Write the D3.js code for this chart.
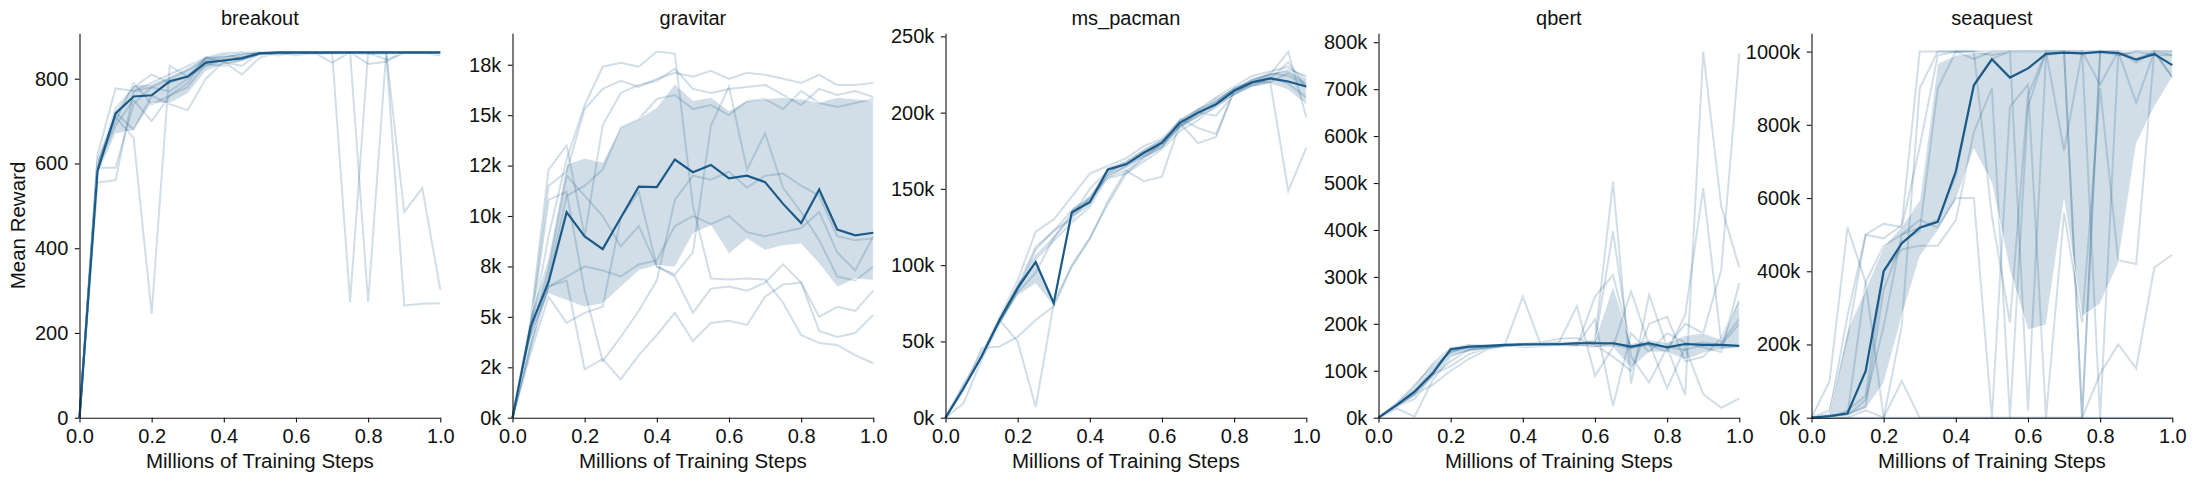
<!DOCTYPE html>
<html>
<head>
<meta charset="utf-8">
<script src="https://cdn.jsdelivr.net/npm/d3@7"></script>
<style>
  body { margin: 0; background: #fff; }
  svg { display: block; font-family: "Liberation Sans", Arial, sans-serif; }
  .tick text { font-size: 20px; fill: #111; }
  .tick line, .domain { stroke: #111; stroke-width: 1.1px; }
</style>
</head>
<body>
<svg id="chart"></svg>
<script>
// x positions (millions of steps)
const steps = [0, 0.05, 0.1, 0.15, 0.2, 0.25, 0.3, 0.35, 0.4, 0.45, 0.5,
               0.55, 0.6, 0.65, 0.7, 0.75, 0.8, 0.85, 0.9, 0.95, 1.0];
const games = ['breakout', 'gravitar', 'ms_pacman', 'qbert', 'seaquest'];
const xTicks = [0, 0.2, 0.4, 0.6, 0.8, 1.0];

// breakout
const breakoutMean = [0, 583, 718, 758, 761, 794, 805, 838, 843, 848, 860, 862, 862, 862, 862, 862, 862, 862, 862, 862, 862];
const breakoutLow  = [0, 572, 670, 678, 742, 742, 765, 818, 832, 840, 854, 856, 856, 857, 856, 857, 855, 856, 857, 857, 857];
const breakoutHigh = [0, 608, 726, 785, 788, 806, 826, 853, 854, 860, 864, 864, 864, 864, 864, 864, 864, 864, 864, 864, 864];
const breakoutRuns = [
  [0, 600, 700, 790, 740, 760, 790, 850, 855, 850, 862, 862, 862, 862, 862, 273, 862, 862, 862, 862, 862],
  [0, 555, 561, 770, 780, 770, 800, 840, 850, 860, 862, 860, 862, 862, 862, 862, 273, 862, 862, 862, 862],
  [0, 590, 590, 740, 780, 800, 820, 845, 855, 858, 862, 855, 862, 858, 862, 862, 862, 862, 485, 542, 302],
  [0, 610, 710, 660, 245, 830, 805, 850, 840, 830, 862, 862, 862, 862, 862, 862, 862, 862, 265, 269, 270],
  [0, 620, 777, 771, 790, 810, 830, 850, 860, 862, 862, 862, 855, 862, 838, 862, 862, 862, 862, 862, 862],
  [0, 580, 720, 680, 760, 740, 726, 800, 840, 810, 850, 862, 862, 860, 862, 862, 835, 840, 862, 862, 855],
  [0, 600, 730, 780, 810, 790, 805, 830, 845, 850, 858, 860, 862, 862, 862, 862, 862, 845, 862, 862, 862],
  [0, 590, 690, 750, 700, 760, 780, 835, 830, 845, 860, 862, 862, 862, 862, 862, 862, 862, 862, 862, 862]
];
const breakoutTicks = [0, 200, 400, 600, 800];
const breakoutTickLabels = ['0', '200', '400', '600', '800'];

// gravitar
const gravitarMean = [0, 4500, 6730, 10190, 8990, 8360, 9910, 11460, 11430, 12800, 12170, 12530, 11870, 12000, 11680, 10600, 9650, 11310, 9330, 9040, 9170];
const gravitarLow  = [0, 3900, 6150, 5820, 5490, 5660, 6480, 7300, 7550, 7470, 9120, 9530, 8130, 8870, 8300, 8540, 8620, 7640, 6480, 6890, 6810];
const gravitarHigh = [0, 5100, 7970, 12580, 12860, 12660, 14400, 14810, 15380, 16540, 15720, 15880, 15220, 15720, 15800, 15880, 15800, 15630, 15880, 15800, 15720];
const gravitarRuns = [
  [0, 4200, 9000, 12800, 15500, 17400, 17600, 17400, 18150, 18050, 10500, 6900, 6850, 6900, 6850, 5700, 4100, 3700, 3600, 3100, 2700],
  [0, 4500, 11500, 12200, 15300, 16300, 16700, 16400, 16800, 17100, 16900, 17200, 16800, 17100, 17000, 16800, 16600, 17000, 16500, 16500, 16600],
  [0, 4800, 12300, 13500, 9000, 14500, 16100, 16500, 16700, 17300, 16300, 16100, 16300, 16400, 16500, 16000, 15500, 16300, 16000, 16200, 15900],
  [0, 3500, 7000, 11000, 11500, 12300, 14400, 14800, 15800, 16000, 15300, 15500, 15000, 15700, 15800, 15300, 16200, 15600, 15400, 15600, 15800],
  [0, 4000, 7400, 12000, 11000, 10000, 8500, 9500, 7500, 7100, 8200, 14500, 16400, 12300, 14100, 11400, 10200, 8800, 7000, 6800, 7500],
  [0, 4300, 10800, 11200, 6300, 2800, 4000, 5300, 6800, 10800, 12000, 11800, 12200, 11400, 12000, 12100, 11500, 11000, 9000, 8800, 8900],
  [0, 3800, 6500, 7000, 7500, 7300, 7000, 7600, 7800, 9500, 10000, 9600, 10000, 9200, 9000, 9200, 9400, 10200, 8200, 7300, 9000],
  [0, 3200, 6000, 4700, 5200, 5500, 9900, 11200, 7500, 7000, 5200, 6400, 6500, 6300, 6700, 7600, 6700, 4300, 4000, 4200, 5100],
  [0, 3500, 6500, 6800, 2400, 2900, 1900, 3100, 4100, 5200, 3800, 4700, 4800, 4600, 6000, 6600, 6700, 5000, 5500, 5300, 6300]
];
const gravitarTicks = [0, 2500, 5000, 7500, 10000, 12500, 15000, 17500];
const gravitarTickLabels = ['0k', '2k', '5k', '8k', '10k', '12k', '15k', '18k'];

// ms_pacman
const pacmanMean = [0, 19300, 40100, 64200, 85000, 102100, 75100, 134700, 141300, 162800, 166100, 173700, 180300, 193500, 200000, 205500, 214300, 219800, 222400, 220400, 217100];
const pacmanLow  = [0, 18000, 38500, 61000, 80000, 88000, 73000, 131000, 138000, 158000, 163000, 170000, 176000, 190000, 196500, 202500, 211000, 216500, 219000, 215000, 205000];
const pacmanHigh = [0, 21000, 42000, 66500, 88500, 103500, 77000, 137500, 145500, 164500, 168500, 176500, 183000, 196000, 203000, 208500, 217000, 222500, 226000, 228000, 222000];
const pacmanRuns = [
  [0, 20000, 40000, 64000, 50000, 7000, 75000, 100000, 118000, 140000, 160000, 168000, 176000, 188000, 195000, 205000, 212000, 220000, 225000, 240000, 197000],
  [0, 18000, 45600, 46700, 53000, 64000, 73000, 99000, 117000, 142000, 162000, 170000, 180000, 192000, 200000, 208000, 214000, 222000, 225000, 228000, 224000],
  [0, 22000, 42000, 66000, 90000, 122000, 130000, 145000, 160000, 165000, 170000, 178000, 183000, 195000, 202000, 210000, 217000, 224000, 227000, 230000, 222000],
  [0, 9400, 38000, 62000, 84000, 110000, 123000, 130000, 145000, 158000, 162000, 155000, 158000, 193000, 180000, 184000, 215000, 220000, 220000, 148600, 177000],
  [0, 20000, 41000, 64000, 86000, 106000, 118000, 132000, 150000, 162000, 166000, 174000, 178000, 190000, 198000, 207000, 216000, 220000, 223000, 219000, 210000],
  [0, 19000, 39000, 62000, 84000, 104000, 116000, 128000, 138000, 158000, 165000, 172000, 180000, 190000, 200000, 198000, 212000, 218000, 220000, 226000, 219000],
  [0, 21000, 40000, 65000, 86000, 112000, 122000, 136000, 143000, 157000, 160000, 171000, 177000, 196000, 190000, 186000, 214000, 218000, 222000, 233000, 216000],
  [0, 20000, 42000, 63000, 82000, 95000, 118000, 134000, 142000, 160000, 168000, 175000, 182000, 191000, 202000, 209000, 215000, 221000, 226000, 224000, 218000]
];
const pacmanTicks = [0, 50000, 100000, 150000, 200000, 250000];
const pacmanTickLabels = ['0k', '50k', '100k', '150k', '200k', '250k'];

// qbert
const qbertMean = [0, 27000, 55500, 94600, 145800, 151500, 153000, 155000, 156500, 156500, 156500, 158600, 158600, 158600, 151500, 158600, 150000, 157000, 155000, 155000, 153000];
const qbertLow  = [0, 22000, 45000, 85000, 130000, 140000, 145000, 150000, 152000, 153000, 153000, 152000, 150000, 150000, 105000, 140000, 140000, 123000, 138000, 145000, 150000];
const qbertHigh = [0, 30000, 62000, 105000, 150000, 153000, 155000, 157000, 159000, 159000, 160000, 162000, 165000, 280000, 158000, 166000, 160000, 175000, 180000, 166000, 255000];
const qbertRuns = [
  [0, 25000, 50000, 95000, 145000, 150000, 152000, 155000, 155000, 155000, 158000, 160000, 165000, 503000, 73000, 262000, 150000, 48000, 780000, 450000, 320000],
  [0, 30000, 60000, 105000, 140000, 152000, 153000, 155000, 258000, 155000, 156000, 158000, 160000, 397000, 130000, 75000, 150000, 200000, 180000, 315000, 776000],
  [0, 20000, 2000, 80000, 130000, 145000, 150000, 152000, 155000, 157000, 160000, 238000, 89000, 150000, 269000, 155000, 140000, 219000, 489000, 160000, 210000],
  [0, 28000, 65000, 115000, 148000, 155000, 154000, 156000, 150000, 152000, 155000, 152000, 258000, 304000, 150000, 160000, 63000, 150000, 50000, 21000, 41000],
  [0, 25000, 40000, 90000, 120000, 145000, 150000, 155000, 158000, 158000, 158000, 155000, 210000, 25000, 180000, 140000, 180000, 160000, 150000, 140000, 287000],
  [0, 27000, 55000, 92000, 110000, 135000, 148000, 155000, 157000, 160000, 168000, 170000, 155000, 130000, 100000, 200000, 215000, 120000, 130000, 170000, 250000],
  [0, 22000, 50000, 70000, 100000, 125000, 145000, 152000, 155000, 156000, 160000, 155000, 150000, 160000, 150000, 155000, 150000, 155000, 160000, 155000, 200000],
  [0, 30000, 70000, 110000, 140000, 150000, 150000, 155000, 156000, 157000, 160000, 160000, 160000, 155000, 148000, 158000, 150000, 145000, 155000, 150000, 150000]
];
const qbertTicks = [0, 100000, 200000, 300000, 400000, 500000, 600000, 700000, 800000];
const qbertTickLabels = ['0k', '100k', '200k', '300k', '400k', '500k', '600k', '700k', '800k'];

// seaquest
const seaquestMean = [0, 4500, 12000, 127000, 400000, 476000, 519000, 535000, 673000, 908000, 979000, 929000, 954000, 994000, 997000, 995000, 999000, 996000, 978000, 993000, 963000];
const seaquestLow  = [0, 0, 5000, 25000, 94000, 276000, 440000, 512000, 594000, 735000, 640000, 400000, 240000, 253000, 595000, 276000, 312000, 421000, 749000, 849000, 931000];
const seaquestHigh = [0, 10000, 240000, 350000, 467000, 521000, 594000, 967000, 990000, 997000, 999000, 999000, 999000, 999000, 999000, 999000, 999000, 999000, 999000, 999000, 999000];
const seaquestRuns = [
  [0, 0, 0, 0, 0, 100000, 0, 0, 0, 0, 0, 0, 0, 0, 0, 0, 120000, 200000, 135000, 410000, 445000],
  [0, 100000, 520000, 370000, 0, 0, 0, 0, 0, 0, 0, 0, 0, 0, 0, 0, 0, 0, 0, 0, 0],
  [0, 5000, 10000, 370000, 470000, 500000, 520000, 540000, 660000, 910000, 980000, 1000000, 1000000, 1000000, 1000000, 1000000, 1000000, 990000, 1000000, 1000000, 1000000],
  [0, 10000, 280000, 500000, 490000, 525000, 1000000, 1000000, 1000000, 1000000, 990000, 1000000, 1000000, 1000000, 730000, 1000000, 1000000, 1000000, 860000, 1000000, 990000],
  [0, 0, 20000, 60000, 400000, 460000, 470000, 470000, 540000, 780000, 900000, 0, 850000, 1000000, 1000000, 1000000, 910000, 1000000, 980000, 1000000, 930000],
  [0, 0, 10000, 30000, 350000, 480000, 510000, 900000, 1000000, 1000000, 550000, 260000, 880000, 1000000, 1000000, 0, 1000000, 1000000, 1000000, 990000, 990000],
  [0, 0, 5000, 50000, 250000, 500000, 540000, 520000, 600000, 600000, 0, 850000, 910000, 0, 560000, 260000, 900000, 430000, 420000, 1000000, 1000000],
  [0, 20000, 220000, 500000, 530000, 520000, 740000, 990000, 1000000, 980000, 1000000, 1000000, 20000, 990000, 1000000, 1000000, 0, 990000, 1000000, 1000000, 930000],
  [0, 0, 0, 20000, 0, 250000, 900000, 1000000, 1000000, 1000000, 1000000, 1000000, 1000000, 1000000, 1000000, 0, 1000000, 1000000, 970000, 1000000, 1000000]
];
const seaquestTicks = [0, 200000, 400000, 600000, 800000, 1000000];
const seaquestTickLabels = ['0k', '200k', '400k', '600k', '800k', '1000k'];

const panels = [
  { name: games[0], mean: breakoutMean, low: breakoutLow, high: breakoutHigh, runs: breakoutRuns, ticks: breakoutTicks, labels: breakoutTickLabels },
  { name: games[1], mean: gravitarMean, low: gravitarLow, high: gravitarHigh, runs: gravitarRuns, ticks: gravitarTicks, labels: gravitarTickLabels },
  { name: games[2], mean: pacmanMean, low: pacmanLow, high: pacmanHigh, runs: pacmanRuns, ticks: pacmanTicks, labels: pacmanTickLabels },
  { name: games[3], mean: qbertMean, low: qbertLow, high: qbertHigh, runs: qbertRuns, ticks: qbertTicks, labels: qbertTickLabels },
  { name: games[4], mean: seaquestMean, low: seaquestLow, high: seaquestHigh, runs: seaquestRuns, ticks: seaquestTicks, labels: seaquestTickLabels }
];

const width = 2196;
const height = 481;
const color = '#1b5a88';
const firstLeft = 79.5;
const panelStep = 433;
const panelWidth = 360.8;
const plotTop = 33.3;
const plotBottom = 417.7;

const svg = d3.select('#chart')
  .attr('width', width)
  .attr('height', height);

panels.forEach((p, k) => {
  const left = firstLeft + k * panelStep;
  const x = d3.scaleLinear().domain([0, 1]).range([left, left + panelWidth]);
  // matplotlib style autoscale: 5% headroom above the largest value
  const yMax = d3.max([...p.runs.flat(), ...p.high]) * 1.05;
  const y = d3.scaleLinear().domain([0, yMax]).range([plotBottom, plotTop]);

  const g = svg.append('g');

  const line = d3.line()
    .x((d, i) => x(steps[i]))
    .y(d => y(d));

  g.selectAll('path.run')
    .data(p.runs)
    .enter().append('path')
    .attr('class', 'run')
    .attr('d', line)
    .attr('fill', 'none')
    .attr('stroke', color)
    .attr('stroke-opacity', 0.2)
    .attr('stroke-width', 2);

  const area = d3.area()
    .x((d, i) => x(steps[i]))
    .y0(d => y(d[0]))
    .y1(d => y(d[1]));

  g.append('path')
    .datum(p.low.map((v, i) => [v, p.high[i]]))
    .attr('d', area)
    .attr('fill', color)
    .attr('fill-opacity', 0.2)
    .attr('stroke', '#fff')
    .attr('stroke-opacity', 0.7)
    .attr('stroke-width', 1);

  g.append('path')
    .datum(p.mean)
    .attr('d', line)
    .attr('fill', 'none')
    .attr('stroke', color)
    .attr('stroke-width', 2.2);

  g.append('g')
    .attr('transform', `translate(0,${plotBottom})`)
    .call(d3.axisBottom(x)
      .tickValues(xTicks)
      .tickFormat(d3.format('.1f'))
      .tickSize(4.7)
      .tickSizeOuter(0)
      .tickPadding(6.6));

  g.append('g')
    .attr('transform', `translate(${left},0)`)
    .call(d3.axisLeft(y)
      .tickValues(p.ticks)
      .tickFormat((d, i) => p.labels[i])
      .tickSize(4.7)
      .tickSizeOuter(0)
      .tickPadding(6.5));

  g.append('text')
    .attr('x', left + panelWidth / 2)
    .attr('y', 25)
    .attr('text-anchor', 'middle')
    .style('font-size', '20px')
    .attr('fill', '#111')
    .text(p.name);

  g.append('text')
    .attr('x', left + panelWidth / 2)
    .attr('y', 467.7)
    .attr('text-anchor', 'middle')
    .style('font-size', '20.5px')
    .attr('fill', '#111')
    .text('Millions of Training Steps');
});

svg.append('text')
  .attr('transform', `translate(25,${(plotTop + plotBottom) / 2}) rotate(-90)`)
  .attr('text-anchor', 'middle')
  .style('font-size', '20.5px')
  .attr('fill', '#111')
  .text('Mean Reward');
</script>
</body>
</html>
